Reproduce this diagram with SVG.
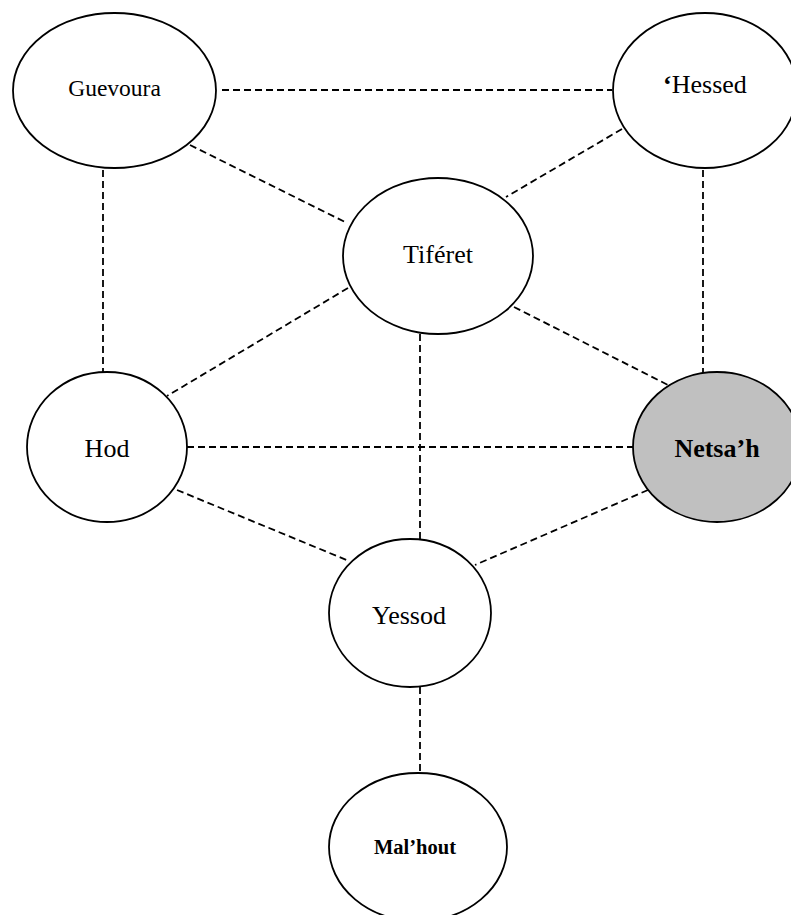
<svg xmlns="http://www.w3.org/2000/svg" width="791" height="915" viewBox="0 0 791 915">
<style>
.node{fill:#fff;stroke:#000;stroke-width:1.8}
.shade{fill:#c0c0c0}
.lbl{font-family:"Liberation Serif","Times New Roman",serif;fill:#000;text-anchor:middle}
.b{font-weight:bold}
.link{stroke:#000;stroke-width:1.8;stroke-dasharray:7 4;fill:none}
</style>
<rect width="791" height="915" fill="#fff"/>
<g id="connectors">
<line class="link" x1="222" y1="90" x2="612" y2="90"/>
<line class="link" x1="190" y1="145" x2="347" y2="223"/>
<line class="link" x1="622" y1="129" x2="506" y2="197"/>
<line class="link" x1="103" y1="170" x2="103" y2="373"/>
<line class="link" x1="703" y1="170" x2="703" y2="373"/>
<line class="link" x1="348" y1="288" x2="167" y2="396"/>
<line class="link" x1="514" y1="307" x2="668" y2="385"/>
<line class="link" x1="420" y1="334" x2="420" y2="539"/>
<line class="link" x1="187" y1="447" x2="633" y2="447"/>
<line class="link" x1="177" y1="490" x2="349" y2="561"/>
<line class="link" x1="648" y1="490" x2="475" y2="565"/>
<line class="link" x1="420" y1="687" x2="420" y2="773"/>
</g>
<g id="guevoura">
<ellipse class="node" cx="114.5" cy="90.5" rx="101.5" ry="77.5"/>
<text class="lbl" x="114.5" y="96" font-size="23.5">Guevoura</text>
</g>
<g id="hessed">
<ellipse class="node" cx="705" cy="90.5" rx="92" ry="77.5"/>
<text class="lbl" x="705" y="93" font-size="26"><tspan class="b">‘</tspan>Hessed</text>
</g>
<g id="tiferet">
<ellipse class="node" cx="438" cy="256" rx="95" ry="78"/>
<text class="lbl" x="438" y="263" font-size="26">Tiféret</text>
</g>
<g id="hod">
<ellipse class="node" cx="107" cy="447" rx="80" ry="75"/>
<text class="lbl" x="107" y="457" font-size="26">Hod</text>
</g>
<g id="netsah">
<ellipse class="node shade" cx="717" cy="447" rx="84" ry="75"/>
<text class="lbl b" x="717" y="457" font-size="26">Netsa’h</text>
</g>
<g id="yessod">
<ellipse class="node" cx="410" cy="613" rx="81" ry="74"/>
<text class="lbl" x="409" y="624" font-size="26">Yessod</text>
</g>
<g id="malhout">
<ellipse class="node" cx="418" cy="847" rx="89" ry="74"/>
<text class="lbl b" x="415" y="854" font-size="20.5">Mal’hout</text>
</g>
</svg>
